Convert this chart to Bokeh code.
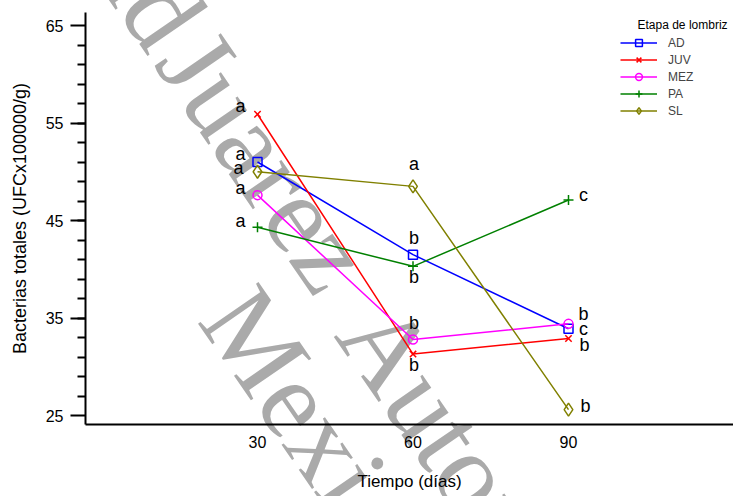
from bokeh.plotting import figure
from bokeh.models import Range1d, FixedTicker, Legend, LegendItem, Label, ColumnDataSource
from bokeh.embed import file_html
from bokeh.resources import INLINE
from bokeh.core.properties import value

# ---------------- data ----------------
days = [30, 60, 90]
groups = ["AD", "JUV", "MEZ", "PA", "SL"]
ad = [51.0, 41.5, 33.9]
juv = [55.9, 31.3, 32.9]
mez = [47.6, 32.8, 34.4]
pa = [44.3, 40.3, 47.1]
sl = [50.0, 48.5, 25.6]
ad_letters = ["a", "b", "c"]
juv_letters = ["a", "b", "b"]
mez_letters = ["a", "b", "b"]
pa_letters = ["a", "b", "c"]
sl_letters = ["a", "a", "b"]
x_ticks = [30, 60, 90]
y_ticks = [25, 35, 45, 55, 65]
x_title = "Tiempo (días)"
y_title = "Bacterias totales (UFCx100000/g)"
legend_title = "Etapa de lombriz"

series = {"AD": ad, "JUV": juv, "MEZ": mez, "PA": pa, "SL": sl}
letters = {"AD": ad_letters, "JUV": juv_letters, "MEZ": mez_letters,
           "PA": pa_letters, "SL": sl_letters}

# ---------------- styles / layout ----------------
styles = {
    "AD": dict(color="#0000ff", marker="square", size=9),
    "JUV": dict(color="#ff0000", marker="x", size=9),
    "MEZ": dict(color="#ff00ff", marker="circle", size=9),
    "PA": dict(color="#008000", marker="cross", size=10),
    "SL": dict(color="#808000", marker="diamond", size=13),
}
# letter offsets in screen pixels (dx, dy) per group per day
letter_offsets = {
    "AD": [(-17, -8), (1, -17), (15, 0.5)],
    "JUV": [(-17, -8), (1, 10.5), (16, 7)],
    "MEZ": [(-17, -7), (1, -16), (15, -10)],
    "PA": [(-17, -6), (1, 10.5), (15, -5.5)],
    "SL": [(-19, -4), (1, -22), (17, -4)],
}

FL, FT, FW, FH = 85, 12, 648, 412      # frame left/top/width/height in pixels
SX = 311 / 60                          # pixels per day
SY = 390 / 40                          # pixels per unit
X0 = 30 - (257 - FL) / SX
X1 = X0 + FW / SX
Y1 = 65 + (25 - FT) / SY
Y0 = Y1 - FH / SY

p = figure(frame_width=FW, frame_height=FH,
           min_border_left=FL, min_border_right=0, min_border_top=FT, min_border_bottom=496 - FT - FH,
           x_range=Range1d(X0, X1), y_range=Range1d(Y0, Y1),
           output_backend="svg", toolbar_location=None,
           background_fill_color="white", border_fill_color="white")
p.outline_line_color = None
p.xgrid.visible = False
p.ygrid.visible = False


def px2x(px):
    return 30 + (px - 257) / SX


def py2y(py):
    return 65 - (py - 25) / SY


# ---------------- watermark (behind the data, not clipped to the frame) ----------------
wm = dict(angle=-55.4, angle_units="deg", text_font="Liberation Serif", text_font_size="112px",
          text_color="#aaaaaa", text_baseline="middle", level="guide")
p.add_layout(Label(x=px2x(179), y=py2y(35), text="Universidad", text_align="right", **wm), "below")
p.add_layout(Label(x=px2x(265), y=py2y(160), text="Juarez", text_align="center", **wm), "below")
p.add_layout(Label(x=px2x(364), y=py2y(314), text="Autonoma de Tabasco", text_align="left", **wm), "below")
p.add_layout(Label(x=px2x(227), y=py2y(299), text="Mexico", text_align="left", **wm), "below")

# ---------------- series ----------------
items = []
for g in groups:
    st = styles[g]
    lr = p.line(days, series[g], line_color=st["color"], line_width=1.5, level="annotation")
    sr = p.scatter(days, series[g], marker=st["marker"], size=st["size"],
                   line_color=st["color"], fill_color=None, line_width=1.5, level="annotation")
    items.append(LegendItem(label=g, renderers=[lr, sr]))

# letters
lx, ly, lt, lxo, lyo = [], [], [], [], []
for g in groups:
    for i, d in enumerate(days):
        lx.append(d)
        ly.append(series[g][i])
        lt.append(letters[g][i])
        lxo.append(letter_offsets[g][i][0])
        lyo.append(letter_offsets[g][i][1])
src = ColumnDataSource(dict(x=lx, y=ly, t=lt, xo=lxo, yo=lyo))
p.text("x", "y", text="t", x_offset="xo", y_offset="yo", source=src,
       text_font=value("Liberation Sans"), text_font_size=value("18px"),
       text_color="black", text_align="center", text_baseline="middle", level="annotation")

# legend
legend = Legend(items=items, location=(535, 305), padding=0, margin=0, spacing=0,
                glyph_width=37, glyph_height=17, label_height=17, label_standoff=11,
                label_text_font="Liberation Sans", label_text_font_size="12px",
                border_line_alpha=0, background_fill_alpha=0)
p.add_layout(legend)
p.add_layout(Label(x=px2x(637), y=py2y(24), text=legend_title, text_align="left",
                   text_baseline="middle", text_font="Liberation Sans",
                   text_font_size="12px", text_color="black"))

# ---------------- axes ----------------
xa = p.xaxis[0]
xa.level = "annotation"
xa.ticker = FixedTicker(ticks=x_ticks)
xa.axis_label = x_title
xa.major_tick_out = 0
xa.major_tick_in = 0
xa.minor_tick_out = 0
xa.minor_tick_in = 0
xa.major_label_standoff = 11
xa.axis_label_standoff = 21
xa.axis_line_width = 2
xa.axis_line_color = "black"
xa.major_label_text_font = "Liberation Sans"
xa.major_label_text_font_size = "16px"
xa.major_label_text_color = "black"
xa.axis_label_text_font = "Liberation Sans"
xa.axis_label_text_font_size = "17px"
xa.axis_label_text_font_style = "normal"
xa.axis_label_text_color = "black"

ya = p.yaxis[0]
ya.level = "annotation"
ya.ticker = FixedTicker(ticks=y_ticks, minor_ticks=list(range(27, 65, 2)))
ya.axis_label = y_title
ya.major_tick_out = 15
ya.major_tick_in = 0
ya.minor_tick_out = 8
ya.minor_tick_in = 0
ya.major_tick_line_width = 2
ya.minor_tick_line_width = 2
ya.major_label_standoff = 7
ya.axis_label_standoff = 13
ya.axis_line_width = 2
ya.axis_line_color = "black"
ya.major_label_text_font = "Liberation Sans"
ya.major_label_text_font_size = "16px"
ya.major_label_text_color = "black"
ya.axis_label_text_font = "Liberation Sans"
ya.axis_label_text_font_size = "18px"
ya.axis_label_text_font_style = "normal"
ya.axis_label_text_color = "black"

open("out.html", "w").write(file_html(p, INLINE))
